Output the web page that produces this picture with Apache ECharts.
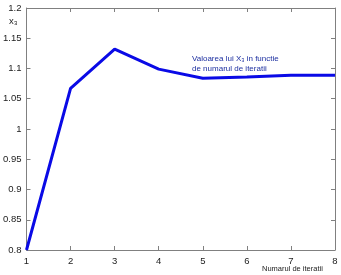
<!DOCTYPE html>
<html><head><meta charset="utf-8">
<script src="https://cdn.jsdelivr.net/npm/echarts@6/dist/echarts.min.js"></script>
<style>html,body{margin:0;padding:0;background:#fff}#c{width:341px;height:275px}</style>
</head><body><div id="c"></div>
<script>
const iterations = [1, 2, 3, 4, 5, 6, 7, 8];
const x3Values = [0.8, 1.067, 1.132, 1.099, 1.084, 1.086, 1.089, 1.089];
const yTicks = ['0.8','0.85','0.9','0.95','1','1.05','1.1','1.15','1.2'];
const xTicks = ['1','2','3','4','5','6','7','8'];

const chart = echarts.init(document.getElementById('c'), null, {renderer:'canvas'});
const axisLine = {show:true, lineStyle:{color:'#808080', width:1}};
const tick = {show:true, inside:true, length:4, lineStyle:{color:'#808080'}};
const font = 'Liberation Sans, Arial, sans-serif';
chart.setOption({
  animation:false,
  backgroundColor:'#fff',
  grid:{left:26, right:6, top:8, bottom:25, show:false},
  xAxis:[
    {type:'value', min:1, max:8, interval:1, axisLine, axisTick:tick, splitLine:{show:false},
     axisLabel:{color:'#222', fontSize:9.5, fontFamily:font, margin:6,
       formatter:(v)=>xTicks[Math.round(v)-1]}},
    {type:'value', position:'top', min:1, max:8, interval:1, axisLine, axisTick:tick,
     splitLine:{show:false}, axisLabel:{show:false}}
  ],
  yAxis:[
    {type:'value', min:0.8, max:1.2, interval:0.05, axisLine, axisTick:tick, splitLine:{show:false},
     axisLabel:{color:'#222', fontSize:9.5, fontFamily:font, margin:5,
       formatter:(v)=>yTicks[Math.round((v-0.8)/0.05)]}},
    {type:'value', position:'right', min:0.8, max:1.2, interval:0.05, axisLine, axisTick:tick,
     splitLine:{show:false}, axisLabel:{show:false}}
  ],
  series:[{
    type:'line', data:iterations.map((x,i)=>[x, x3Values[i]]),
    showSymbol:false, symbol:'none', lineStyle:{color:'#0a0ae6', width:3}
  }],
  graphic:[
    {type:'text', left:9, top:16, style:{text:'x₃', fill:'#222', font:'9.5px '+font}},
    {type:'text', left:192, top:54, style:{text:'Valoarea lui X₃ in functie\nde numarul de iteratii', fill:'#1c2fa0', font:'8px '+font, lineHeight:10}},
    {type:'text', left:262, top:265, style:{text:'Numarul de iteratii', fill:'#222', font:'7.5px '+font}}
  ]
});
</script></body></html>
